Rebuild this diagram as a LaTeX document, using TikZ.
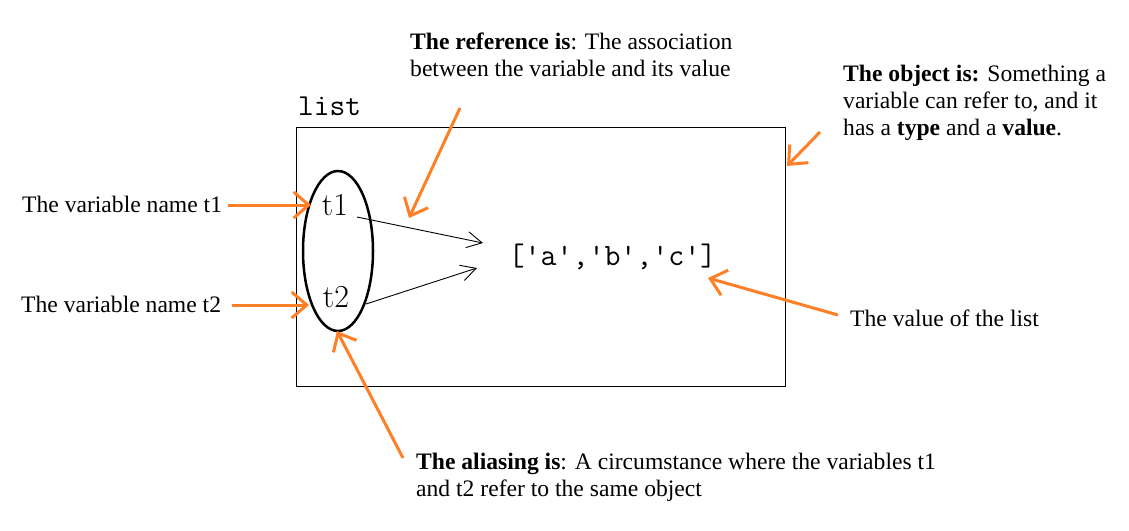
\documentclass[tikz,border=0pt]{standalone}
\usepackage{fontspec}
\setmainfont{Liberation Serif}
\newfontfamily\lmfont{Latin Modern Roman}
\newfontfamily\codefont{Latin Modern Mono}
\usetikzlibrary{arrows.meta,shapes.geometric}
\definecolor{paintorange}{RGB}{255,127,39}
\tikzset{
  lbl/.style={inner sep=0pt, font=\fontsize{23.6}{27}\selectfont, align=left, anchor=north west},
  orangearrow/.style={draw=paintorange, line width=3pt, -{Straight Barb[length=15pt,width=26pt,line width=3pt]}},
  blackarrow/.style={draw=black, line width=0.9pt, -{Straight Barb[length=15pt,width=16pt,line width=0.9pt]}},
  varname/.style={inner sep=0pt, font=\lmfont\fontsize{32}{36}\selectfont, anchor=base},
}
\begin{document}
\begin{tikzpicture}[x=1pt,y=-1pt]
\useasboundingbox (0,0) rectangle (1129,530);
% object box
\node[draw, line width=1pt, minimum width=489pt, minimum height=259pt, inner sep=0pt] (obj) at (540.5,256.5) {};
\node[inner sep=0pt, anchor=base west, font=\codefont\fontsize{30.5}{34}\selectfont] (listlbl) at (298,115) {list};
% variables ellipse
\node[draw, ellipse, line width=2.5pt, minimum width=70pt, minimum height=160pt, inner sep=0pt] (alias) at (338,251) {};
\node[varname] (t1) at (335,215) {t1};
\node[varname] (t2) at (336,307) {t2};
% value
\node[inner sep=0pt, anchor=base, font=\codefont\fontsize{31}{34}\selectfont] (val) at (612.5,265) {['a','b','c']};
% black reference arrows
\coordinate (t1s) at (357,217);
\coordinate (t1e) at (483,243);
\coordinate (t2s) at (366,304);
\coordinate (t2e) at (477,268);
\draw[blackarrow] (t1s) -- (t1e);
\draw[blackarrow] (t2s) -- (t2e);
% labels
\node[lbl] (refl) at (410,33) {\textbf{The reference is}: The association\\between the variable and its value};
\node[lbl] (objl) at (843,65) {\textbf{The object is:} Something a\\variable can refer to, and it\\has a \textbf{type} and a \textbf{value}.};
\node[lbl] (v1) at (22,196) {The variable name t1};
\node[lbl] (v2) at (21,296) {The variable name t2};
\node[lbl] (vall) at (850,310) {The value of the list};
\node[lbl] (alil) at (416,453) {\textbf{The aliasing is}: A circumstance where the variables t1\\and t2 refer to the same object};
% orange arrows
\coordinate (a1s) at (228,205); \coordinate (a1e) at (311,205);
\coordinate (a2s) at (232,305); \coordinate (a2e) at (309,305);
\coordinate (a3s) at (460,108); \coordinate (a3e) at (409,218);
\coordinate (a4s) at (820,132); \coordinate (a4e) at (787,166);
\coordinate (a5s) at (838,315); \coordinate (a5e) at (708,278);
\coordinate (a6s) at (403,458); \coordinate (a6e) at (337,331);
\draw[orangearrow] (a1s) -- (a1e);
\draw[orangearrow] (a2s) -- (a2e);
\draw[orangearrow] (a3s) -- (a3e);
\draw[orangearrow] (a4s) -- (a4e);
\draw[orangearrow] (a5s) -- (a5e);
\draw[orangearrow] (a6s) -- (a6e);
\end{tikzpicture}
\end{document}
